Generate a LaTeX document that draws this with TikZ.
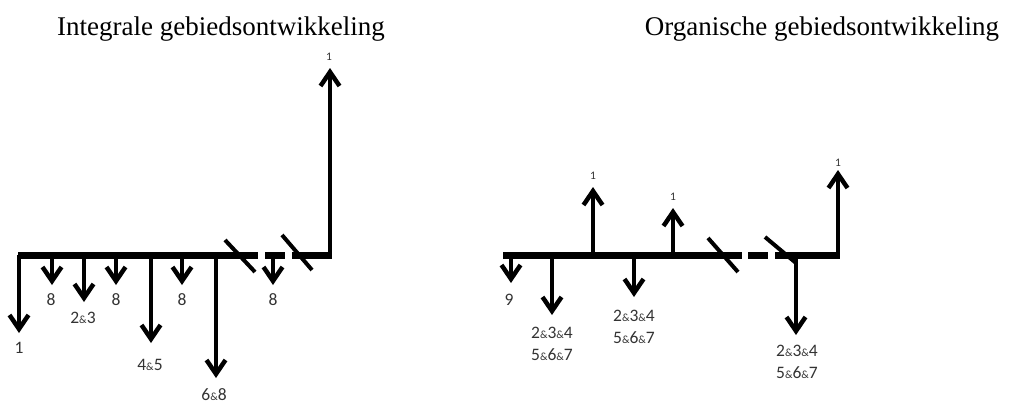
\documentclass[tikz,border=0pt]{standalone}
\usepackage{fontspec}
\setmainfont{Liberation Serif}
\newfontfamily\labelfont{Carlito}
\usetikzlibrary{arrows.meta}

% klein en-teken zoals in de labels
\newcommand{\klamp}{{\fontsize{11}{11}\selectfont\&}}

\begin{document}
\begin{tikzpicture}[x=1pt, y=-1pt, >={Straight Barb[length=14pt, width=19pt]}]

% --- stijlen ---
\tikzset{
  every node/.style={font=\labelfont\fontsize{17.5}{21.5}\selectfont, text=black!80, inner sep=0pt, align=center},
  balk/.style={line width=7pt},
  pijl/.style={->, line width=4.5pt},
  streep/.style={line width=4pt},
  titel/.style={font=\fontsize{27}{30}\selectfont, text=black, anchor=base},
  klein/.style={font=\labelfont\fontsize{11.5}{12}\selectfont},
}
\useasboundingbox (0,0) rectangle (1009,405);

% --- parameters ---
\def\lijnY{255}   % hoogte van de tijdlijn

% --- titels ---
\node[titel] (titelL) at (221,35) {Integrale gebiedsontwikkeling};
\node[titel] (titelR) at (822,35) {Organische gebiedsontwikkeling};

% ============ links: integrale gebiedsontwikkeling ============

% --- tijdlijn met onderbreking ---
\coordinate (L0) at (18,\lijnY);
\coordinate (L1) at (258,\lijnY);
\coordinate (L2) at (265,\lijnY);
\coordinate (L3) at (285,\lijnY);
\coordinate (L4) at (292,\lijnY);
\coordinate (L5) at (332,\lijnY);
\draw[balk] (L0) -- (L1);
\draw[balk] (L2) -- (L3);
\draw[balk] (L4) -- (L5);
\draw[streep] (225,240) -- (255,272);   % breekstreep
\draw[streep] (282,235) -- (312,270);   % breekstreep

% --- pijl omhoog ---
\coordinate (La) at (330,\lijnY);
\coordinate (Lat) at (330,68);
\draw[pijl] (La) -- (Lat);
\node[klein] (Lalab) at (329,57) {1};

% --- pijlen omlaag ---
\coordinate (Lb1) at (19,\lijnY);  \coordinate (Lt1) at (19,333);
\coordinate (Lb2) at (52,\lijnY);  \coordinate (Lt2) at (52,285);
\coordinate (Lb3) at (84,\lijnY);  \coordinate (Lt3) at (84,302);
\coordinate (Lb4) at (116,\lijnY); \coordinate (Lt4) at (116,285);
\coordinate (Lb5) at (151,\lijnY); \coordinate (Lt5) at (151,343);
\coordinate (Lb6) at (182,\lijnY); \coordinate (Lt6) at (182,285);
\coordinate (Lb7) at (216,\lijnY); \coordinate (Lt7) at (216,378);
\coordinate (Lb8) at (273,\lijnY); \coordinate (Lt8) at (273,285);
\draw[pijl] (Lb1) -- (Lt1);
\draw[pijl] (Lb2) -- (Lt2);
\draw[pijl] (Lb3) -- (Lt3);
\draw[pijl] (Lb4) -- (Lt4);
\draw[pijl] (Lb5) -- (Lt5);
\draw[pijl] (Lb6) -- (Lt6);
\draw[pijl] (Lb7) -- (Lt7);
\draw[pijl] (Lb8) -- (Lt8);

% --- labels ---
\node (Ll1) at (19,348) {1};
\node (Ll2) at (51,300) {8};
\node (Ll3) at (83,318) {2\klamp3};
\node (Ll4) at (116,300) {8};
\node (Ll5) at (150,365) {4\klamp5};
\node (Ll6) at (182,300) {8};
\node (Ll7) at (214,395) {6\klamp8};
\node (Ll8) at (273,300) {8};

% ============ rechts: organische gebiedsontwikkeling ============

% --- tijdlijn met onderbreking ---
\coordinate (R0) at (503,\lijnY);
\coordinate (R1) at (742,\lijnY);
\coordinate (R2) at (748,\lijnY);
\coordinate (R3) at (768,\lijnY);
\coordinate (R4) at (775,\lijnY);
\coordinate (R5) at (840,\lijnY);
\draw[balk] (R0) -- (R1);
\draw[balk] (R2) -- (R3);
\draw[balk] (R4) -- (R5);
\draw[streep] (708,238) -- (738,272);   % breekstreep
\draw[streep] (765,237) -- (796,263);   % breekstreep

% --- pijlen omhoog ---
\coordinate (Ra1) at (593,\lijnY); \coordinate (Rat1) at (593,187);
\coordinate (Ra2) at (673,\lijnY); \coordinate (Rat2) at (673,208);
\coordinate (Ra3) at (838,\lijnY); \coordinate (Rat3) at (838,170);
\draw[pijl] (Ra1) -- (Rat1);
\draw[pijl] (Ra2) -- (Rat2);
\draw[pijl] (Ra3) -- (Rat3);
\node[klein] (Ral1) at (593,176) {1};
\node[klein] (Ral2) at (673,197) {1};
\node[klein] (Ral3) at (838,163) {1};

% --- pijlen omlaag ---
\coordinate (Rb1) at (511,\lijnY); \coordinate (Rt1) at (511,283);
\coordinate (Rb2) at (552,\lijnY); \coordinate (Rt2) at (552,315);
\coordinate (Rb3) at (634,\lijnY); \coordinate (Rt3) at (634,297);
\coordinate (Rb4) at (796,\lijnY); \coordinate (Rt4) at (796,335);
\draw[pijl] (Rb1) -- (Rt1);
\draw[pijl] (Rb2) -- (Rt2);
\draw[pijl] (Rb3) -- (Rt3);
\draw[pijl] (Rb4) -- (Rt4);

% --- labels ---
\node (Rl1) at (509,300) {9};
\node (Rl2) at (552,344) {2\klamp3\klamp4\\5\klamp6\klamp7};
\node (Rl3) at (634,327) {2\klamp3\klamp4\\5\klamp6\klamp7};
\node (Rl4) at (797,362) {2\klamp3\klamp4\\5\klamp6\klamp7};

\end{tikzpicture}
\end{document}
